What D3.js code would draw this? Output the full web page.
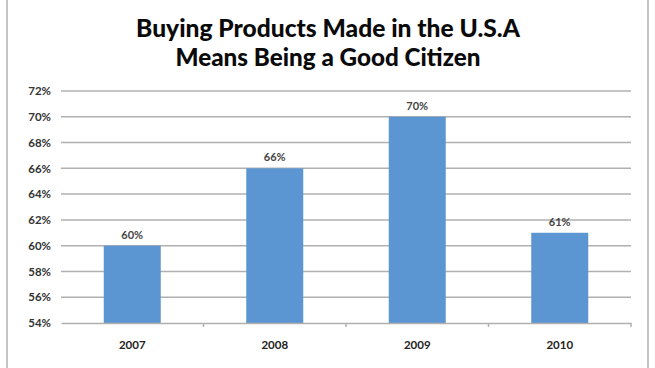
<!DOCTYPE html>
<html><head><meta charset="utf-8">
<script src="https://cdn.jsdelivr.net/npm/d3@7"></script>
<style>html,body{margin:0;padding:0;background:#fff;}svg{display:block;}</style>
</head><body>
<script>
const titleLines = ["Buying Products Made in the U.S.A", "Means Being a Good Citizen"];
const categories = ["2007", "2008", "2009", "2010"];
const values = [0.60, 0.66, 0.70, 0.61];
const valueLabels = ["60%", "66%", "70%", "61%"];
const yTicks = [0.54, 0.56, 0.58, 0.60, 0.62, 0.64, 0.66, 0.68, 0.70, 0.72];

const W = 655, H = 368;
const m = {left: 61, right: 24, top: 91, bottom: 45};
const svg = d3.select("body").append("svg").attr("width", W).attr("height", H);
const font = "Lato, 'Liberation Sans', sans-serif";

// frame
svg.append("rect").attr("x", 7).attr("y", -2).attr("width", 641).attr("height", H + 4)
  .attr("fill", "#fff").attr("stroke", "#c4c4c4").attr("stroke-width", 2);

const x = d3.scaleBand().domain(categories).range([m.left, W - m.right])
  .paddingInner(0.6).paddingOuter(0.3);
const xOuter = d3.scaleBand().domain(categories).range([m.left, W - m.right]);
const y = d3.scaleLinear().domain([0.54, 0.72]).range([H - m.bottom, m.top]);

// title
const titleTargets = [384, 305];
titleLines.forEach((t, i) => {
  const tx = svg.append("text").attr("x", 328).attr("y", 37 + i * 28.5)
    .attr("text-anchor", "middle").attr("font-family", font)
    .attr("font-weight", "900").attr("font-size", 25).attr("fill", "#0a0a0a").text(t);
  const len = tx.node().getComputedTextLength();
  tx.attr("font-size", 25 * titleTargets[i] / len);
});

// gridlines
svg.append("g").selectAll("line").data(yTicks.slice(1)).join("line")
  .attr("x1", m.left).attr("x2", W - m.right)
  .attr("y1", d => y(d)).attr("y2", d => y(d))
  .attr("stroke", "#b0b0b0").attr("stroke-width", 1.5);

// y axis
const yAxis = svg.append("g").attr("transform", `translate(${m.left},0)`)
  .call(d3.axisLeft(y).tickValues(yTicks).tickFormat(d3.format(".0%")).tickSize(0).tickPadding(10));
yAxis.select(".domain").remove();
yAxis.selectAll("text").attr("font-family", font).attr("font-size", 11.5)
  .attr("fill", "#333").attr("font-weight", "bold");

// bars
svg.append("g").selectAll("rect").data(values).join("rect")
  .attr("x", (d, i) => x(categories[i]))
  .attr("width", x.bandwidth())
  .attr("y", d => y(d))
  .attr("height", d => y(0.54) - y(d))
  .attr("fill", "#5b95d2");

// value labels
svg.append("g").selectAll("text").data(values).join("text")
  .attr("x", (d, i) => x(categories[i]) + x.bandwidth() / 2)
  .attr("y", d => y(d) - 7)
  .attr("text-anchor", "middle").attr("font-family", font).attr("font-size", 11)
  .attr("font-weight", "bold").attr("fill", "#444").text((d, i) => valueLabels[i]);

// x axis
const xAxis = svg.append("g").attr("transform", `translate(0,${y(0.54)})`)
  .call(d3.axisBottom(xOuter).tickSize(0).tickPadding(18));
xAxis.select(".domain").attr("stroke", "#b0b0b0").attr("stroke-width", 1.5);
xAxis.selectAll("text").attr("font-family", font).attr("font-size", 11.5)
  .attr("fill", "#222").attr("font-weight", "bold");
// category boundary ticks
svg.append("g").selectAll("line").data(categories.slice(1).concat(["end"])).join("line")
  .attr("x1", d => d === "end" ? W - m.right : xOuter(d))
  .attr("x2", d => d === "end" ? W - m.right : xOuter(d))
  .attr("y1", y(0.54)).attr("y2", y(0.54) + 4)
  .attr("stroke", "#b0b0b0").attr("stroke-width", 1.5);
</script>
</body></html>
